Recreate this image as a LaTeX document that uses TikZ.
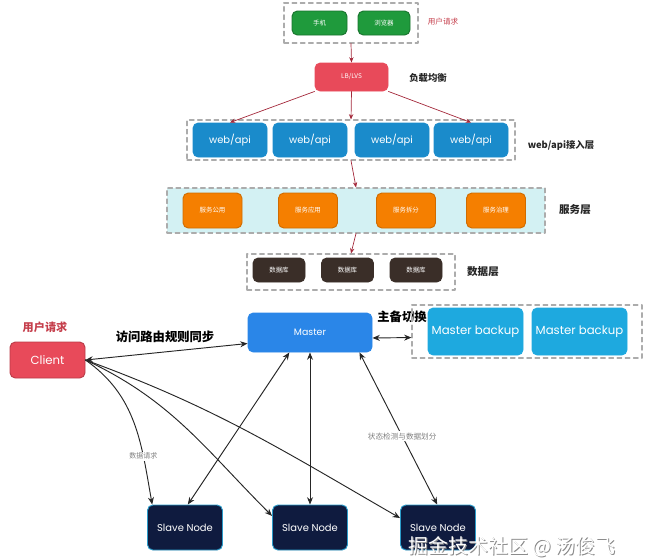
\documentclass[tikz,border=0pt]{standalone}
\usepackage{fontspec}
\setmainfont{Poppins}
\newfontfamily\cjk{Noto Sans CJK SC}
\usetikzlibrary{arrows.meta}
\definecolor{phonegreen}{HTML}{1F9A3C}
\definecolor{lbred}{HTML}{E84A5A}
\definecolor{webblue}{HTML}{1A8BCB}
\definecolor{svcband}{HTML}{D3F1F3}
\definecolor{svcorange}{HTML}{F57F00}
\definecolor{dbbrown}{HTML}{3A2E28}
\definecolor{masterblue}{HTML}{2A86E8}
\definecolor{backupblue}{HTML}{1EA9DF}
\definecolor{slavenavy}{HTML}{0F1B3F}
\definecolor{arrred}{HTML}{A3283A}

\begin{document}
\begin{tikzpicture}[x=0.03cm,y=-0.03cm,line join=round,line cap=round,>={Stealth[length=2.2mm,width=1.8mm]}]
	\tikzset{sz/.style 2 args={minimum width=#1*0.03cm,minimum height=#2*0.03cm,inner sep=0pt},
		grp/.style={draw=gray!65,dash pattern=on 4pt off 3pt,line width=0.9pt},
		bx/.style={rounded corners=1.6mm,line width=0.8pt,text=white,align=center},
		tiny/.style={font=\cjk\fontsize{5.5}{6}\selectfont},
		side/.style={font=\cjk\bfseries\fontsize{8}{9}\selectfont,text=black!85},
		toparr/.style={->,draw=arrred,line width=0.6pt,>={Stealth[length=1.6mm,width=1.3mm]}},
		lowarr/.style={line width=0.8pt,draw=black!85}}
	\useasboundingbox (0,0) rectangle (648,557);
	% upper part
	\path (351,23)node[grp,sz={134}{40}](usergrp){}
	(319.5,23)node[bx,fill=phonegreen,draw=phonegreen!75!black,sz={55}{24},tiny](phone){手机}
	(384,23)node[bx,fill=phonegreen,draw=phonegreen!75!black,sz={52}{24},tiny](browser){浏览器}
	(443,22)node[side,text=lbred!85!black,font=\cjk\fontsize{6.5}{7}\selectfont](userlbl){用户请求};
	\path (351.5,77)node[bx,fill=lbred,draw=lbred,sz={73}{28},tiny](lb){LB/LVS}
	(428,78)node[side](lblbl){负载均衡};
	\path (351,140)node[grp,sz={328}{40}](webgrp){};
	\foreach \x/\n in {230/1,310/2,392/3,471/4}{
		\node[bx,fill=webblue,draw=webblue,sz={74}{34},font=\fontsize{8.5}{9}\selectfont] (w\n) at (\x,140) {web/api};}
	\path (561,145)node[side,font=\fontsize{8}{9}\selectfont\cjk\bfseries](weblbl){web/api接入层};
	\path (356,210.5)node[grp,fill=svcband,sz={378}{45}](svcgrp){};
	\foreach \x/\n/\t in {212.5/1/服务公用,308/2/服务应用,406/3/服务拆分,496/4/服务治理}{
		\node[bx,fill=svcorange,draw=svcorange!85!black,sz={59}{35},tiny] (s\n) at (\x,210.5) {\t};}
	\path (575,210)node[side,font=\cjk\bfseries\fontsize{9}{10}\selectfont](svclbl){服务层};
	\path (351,272)node[grp,sz={208}{36}](dbgrp){};
	\foreach \x/\n in {279/1,347.5/2,416/3}{
		\node[bx,fill=dbbrown,draw=dbbrown,sz={52}{24},tiny] (db\n) at (\x,270) {数据库};}
	\path (483,272)node[side,font=\cjk\bfseries\fontsize{9}{10}\selectfont](dblbl){数据层};
	\draw[toparr] (usergrp.south)--(lb.north);
	\foreach \a/\b in {lb.south west/w1.north,lb.south/webgrp.north,lb.south east/w4.north,webgrp.south/svcgrp.north,svcgrp.south/dbgrp.north}{
		\draw[toparr] (\a)--(\b);}
	% lower part
	\path (45,327)node[font=\cjk\bfseries\fontsize{9.5}{10}\selectfont,text=lbred!85!black](reqlbl){用户请求}
	(47.5,360)node[bx,fill=lbred,draw=lbred!80!black,sz={75}{36},font=\fontsize{10}{11}\selectfont](client){Client}
	(310,332.5)node[bx,fill=masterblue,draw=masterblue,sz={124}{39},font=\fontsize{8}{9}\selectfont](master){Master}
	(165,337)node[font=\cjk\bfseries\fontsize{10.5}{11}\selectfont](synclbl){访问路由规则同步}
	(402,317)node[font=\cjk\bfseries\fontsize{10.5}{11}\selectfont](swlbl){主备切换};
	\path (527,331.5)node[grp,sz={230}{53}](bkgrp){}
	(475.5,331.5)node[bx,fill=backupblue,draw=backupblue,sz={95}{47},font=\fontsize{10}{11}\selectfont](bk1){Master backup}
	(579.5,331.5)node[bx,fill=backupblue,draw=backupblue,sz={95}{47},font=\fontsize{10}{11}\selectfont](bk2){Master backup};
	\foreach \x/\n in {185/1,310/2,438/3}{
		\node[bx,fill=slavenavy,draw=cyan!60!teal,sz={75}{45},font=\fontsize{8.5}{9}\selectfont] (sl\n) at (\x,527.5) {Slave Node};}
	\draw[lowarr,<->] (client.east)--(master.190);
	\draw[lowarr,<->] (master.-5)--(bkgrp.183);
	\draw[lowarr,->] (client.east) to[out=-35,in=100] node[pos=0.72,fill=white,inner sep=1pt,font=\cjk\fontsize{6}{7}\selectfont,text=gray](reqdata){数据请求} (sl1.145);
	\foreach \t/\o/\i in {sl2.163/-25/135,sl3.166/-20/150}{
		\draw[lowarr,->] (client.east) to[out=\o,in=\i] (\t);}
	\draw[lowarr,<->] (master.224)--(sl1.83);
	\draw[lowarr,<->] (master.south)--(sl2.north);
	\draw[lowarr,<->] (master.-22)--node[pos=0.55,fill=white,inner sep=1pt,font=\cjk\fontsize{6.5}{7}\selectfont,text=gray](statelbl){状态检测与数据划分}(sl3.92);
	% watermark
	\path (513,548)node[font=\cjk\fontsize{17}{18}\selectfont,text=black!45](wmshadow){掘金技术社区 @ 汤俊飞}
	(512,547)node[font=\cjk\fontsize{17}{18}\selectfont,text=white](wm){掘金技术社区 @ 汤俊飞};
\end{tikzpicture}
\end{document}
